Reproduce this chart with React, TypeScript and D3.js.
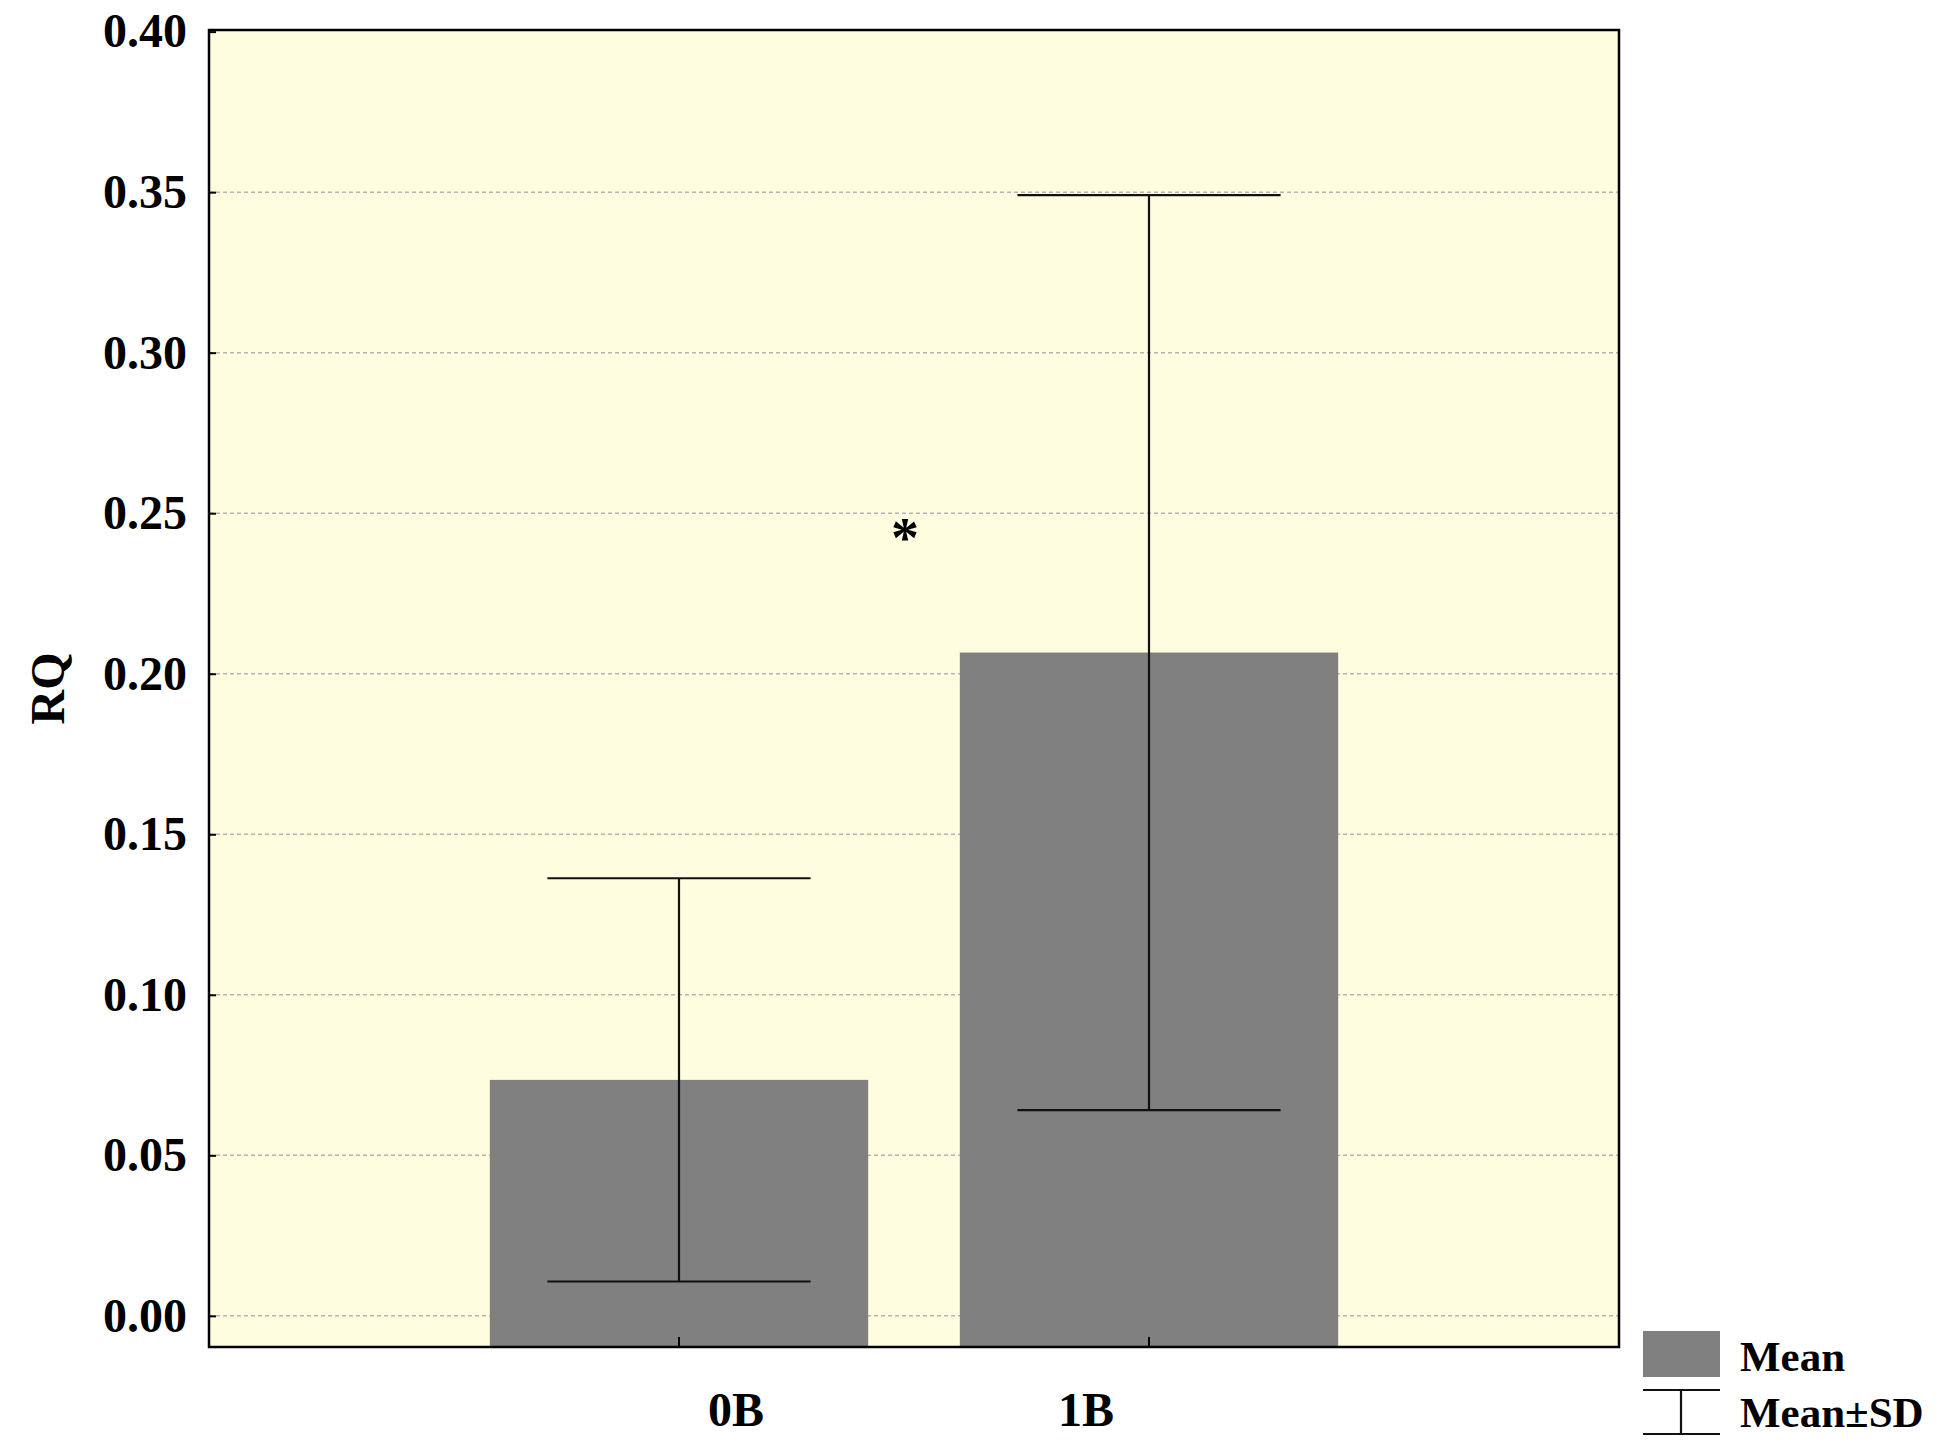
import React, { useRef, useEffect } from "react";
import * as d3 from "d3";

// groups and their statistics
const groups = ["0B", "1B"];
const means = [0.0735, 0.2066];
const sds = [0.0628, 0.1425];
const yTicks = [0, 0.05, 0.1, 0.15, 0.2, 0.25, 0.3, 0.35, 0.4];
const legendLabels = ["Mean", "Mean\u00b1SD"];

const FONT = "'Liberation Serif', 'Times New Roman', serif";

const App = () => {
  const svgRef = useRef<SVGSVGElement>(null);

  useEffect(() => {
    const svg = d3.select(svgRef.current);
    svg.selectAll("*").remove();

    const width = 1942;
    const height = 1451;
    const margin = { top: 30, right: 323, bottom: 104, left: 209 };
    const x0 = margin.left;
    const x1 = width - margin.right;
    const y0 = height - margin.bottom;
    const y1 = margin.top;

    svg.append("rect").attr("width", width).attr("height", height).attr("fill", "#ffffff");

    const x = d3.scalePoint().domain(groups).range([x0, x1]).padding(1);
    const step = x.step();
    const barW = step * 0.805;
    const capW = step * 0.56;

    const y = d3.scaleLinear().domain([-0.0097, 0.4005]).range([y0, y1]);

    // plot background
    svg
      .append("rect")
      .attr("x", x0)
      .attr("y", y1)
      .attr("width", x1 - x0)
      .attr("height", y0 - y1)
      .attr("fill", "#fefde0");

    // grid lines
    svg
      .append("g")
      .selectAll("line")
      .data(yTicks.filter((t) => t < 0.4))
      .enter()
      .append("line")
      .attr("x1", x0)
      .attr("x2", x1)
      .attr("y1", (d) => y(d))
      .attr("y2", (d) => y(d))
      .attr("stroke", "#b4b4b4")
      .attr("stroke-width", 1.5)
      .attr("stroke-dasharray", "4,3");

    const data = groups.map((g, i) => ({ g, mean: means[i], sd: sds[i] }));

    // bars
    svg
      .selectAll(".bar")
      .data(data)
      .enter()
      .append("rect")
      .attr("class", "bar")
      .attr("x", (d) => (x(d.g) as number) - barW / 2)
      .attr("y", (d) => y(d.mean))
      .attr("width", barW)
      .attr("height", (d) => y0 - y(d.mean))
      .attr("fill", "#808080");

    // error bars
    const eb = svg.append("g").attr("stroke", "#111").attr("stroke-width", 2.2);
    data.forEach((d) => {
      const cx = x(d.g) as number;
      const top = y(d.mean + d.sd);
      const bot = y(d.mean - d.sd);
      eb.append("line").attr("x1", cx).attr("x2", cx).attr("y1", top).attr("y2", bot);
      eb.append("line").attr("x1", cx - capW / 2).attr("x2", cx + capW / 2).attr("y1", top).attr("y2", top);
      eb.append("line").attr("x1", cx - capW / 2).attr("x2", cx + capW / 2).attr("y1", bot).attr("y2", bot);
    });

    // y axis
    const yAxis = svg
      .append("g")
      .attr("transform", `translate(${x0},0)`)
      .call(
        d3
          .axisLeft(y)
          .tickValues(yTicks)
          .tickFormat(d3.format(".2f"))
          .tickSizeInner(-7)
          .tickSizeOuter(0)
          .tickPadding(22)
      );
    yAxis.select(".domain").remove();
    yAxis.selectAll("line").attr("stroke", "#000").attr("stroke-width", 2);
    yAxis
      .selectAll("text")
      .attr("font-family", FONT)
      .attr("font-weight", "bold")
      .attr("font-size", 48)
      .attr("fill", "#000");

    // x axis ticks (inside)
    svg
      .append("g")
      .selectAll("line")
      .data(groups)
      .enter()
      .append("line")
      .attr("x1", (d) => x(d) as number)
      .attr("x2", (d) => x(d) as number)
      .attr("y1", y0)
      .attr("y2", y0 - 10)
      .attr("stroke", "#000")
      .attr("stroke-width", 2);

    // x labels (offset as in the original)
    const labelShift = [57, -63];
    svg
      .append("g")
      .selectAll("text")
      .data(groups)
      .enter()
      .append("text")
      .attr("x", (d, i) => (x(d) as number) + labelShift[i])
      .attr("y", y0 + 62)
      .attr("dy", "0.35em")
      .attr("text-anchor", "middle")
      .attr("font-family", FONT)
      .attr("font-weight", "bold")
      .attr("font-size", 48)
      .text((d) => d);

    // frame
    svg
      .append("rect")
      .attr("x", x0)
      .attr("y", y1)
      .attr("width", x1 - x0)
      .attr("height", y0 - y1)
      .attr("fill", "none")
      .attr("stroke", "#000")
      .attr("stroke-width", 2.5);

    // significance mark
    const midX = ((x(groups[0]) as number) + (x(groups[1]) as number)) / 2;
    svg
      .append("text")
      .attr("x", midX - 9)
      .attr("y", y(0.2485))
      .attr("dy", "0.7em")
      .attr("text-anchor", "middle")
      .attr("font-family", FONT)
      .attr("font-weight", "bold")
      .attr("font-size", 56)
      .text("*");

    // y label
    svg
      .append("text")
      .attr("transform", `translate(47,${(y0 + y1) / 2}) rotate(-90)`)
      .attr("dy", "0.35em")
      .attr("text-anchor", "middle")
      .attr("font-family", FONT)
      .attr("font-weight", "bold")
      .attr("font-size", 48)
      .text("RQ");

    // legend
    const lg = svg.append("g").attr("transform", `translate(1643,1331)`);
    lg.append("rect").attr("width", 77).attr("height", 46).attr("fill", "#808080");
    const ls = lg.append("g").attr("stroke", "#111").attr("stroke-width", 2.2);
    ls.append("line").attr("x1", 0).attr("x2", 77).attr("y1", 59).attr("y2", 59);
    ls.append("line").attr("x1", 0).attr("x2", 77).attr("y1", 103).attr("y2", 103);
    ls.append("line").attr("x1", 38).attr("x2", 38).attr("y1", 59).attr("y2", 103);
    lg.selectAll("text")
      .data(legendLabels)
      .enter()
      .append("text")
      .attr("x", 97)
      .attr("y", (d, i) => 25 + i * 56)
      .attr("dy", "0.35em")
      .attr("font-family", FONT)
      .attr("font-weight", "bold")
      .attr("font-size", 43)
      .text((d) => d);
  }, []);

  return (
    <svg
      ref={svgRef}
      width={1942}
      height={1451}
      style={{ position: "absolute", left: 0, top: 0 }}
    ></svg>
  );
};

export default App;
